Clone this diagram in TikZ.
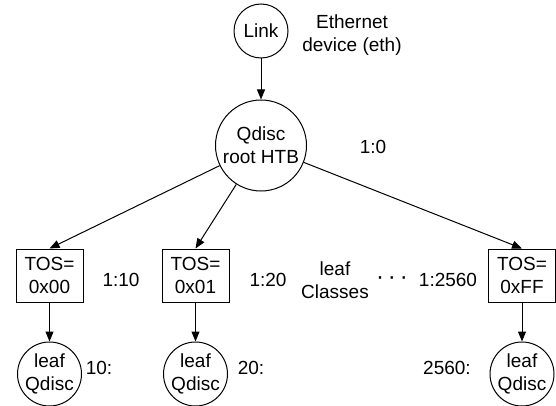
\documentclass[tikz,border=0pt]{standalone}
\usepackage{fontspec}
\setmainfont{Liberation Sans}
\usepackage{tikz}
\usetikzlibrary{arrows.meta}

\tikzset{
  qnode/.style={circle, draw, line width=1pt, inner sep=0pt, align=center},
  tosbox/.style={rectangle, draw, line width=1pt, minimum width=67pt, minimum height=53pt, inner sep=0pt, align=center},
  plain/.style={align=center, inner sep=0pt},
  link/.style={line width=1pt, -{Triangle[length=10pt, width=8pt]}}
}

\begin{document}
\begin{tikzpicture}[x=1pt, y=-1pt, font=\fontsize{19}{23}\selectfont]
\useasboundingbox (0,0) rectangle (556,406);

% Top of the tree: device and root qdisc
\node[qnode, minimum size=54pt] (link) at (261,31) {Link};
\node[plain] (eth) at (352,35) {Ethernet\\device (eth)};
\node[qnode, minimum size=91pt] (root) at (261,145.5) {Qdisc\\root HTB};
\node[plain] (rootid) at (373,147) {1:0};
\draw[link] (link) -- (root);

% Leaf classes and their qdiscs
\foreach \name/\x/\tos in {a/49.5/0x00, b/195.5/0x01, c/522/0xFF} {
  \node[tosbox] (tos\name) at (\x,275.5) {TOS=\\\tos};
  \node[qnode, minimum size=64pt] (leaf\name) at (\x,374) {leaf\\Qdisc};
  \draw[link] (root) -- (tos\name.north);
  \draw[link] (tos\name) -- (leaf\name);
}

% Class and handle labels
\node[plain] (clsa) at (121,280) {1:10};
\node[plain] (clsb) at (268,280) {1:20};
\node[plain] (clsc) at (448,280) {1:2560};
\node[plain] (leafcls) at (335,280) {leaf\\Classes};
\node[plain, font=\fontsize{24}{24}\selectfont] (dots) at (392,281) {·\,·\,·};
\node[plain] (hnda) at (99,368) {10:};
\node[plain] (hndb) at (251,368) {20:};
\node[plain] (hndc) at (447,368) {2560:};
\end{tikzpicture}
\end{document}
